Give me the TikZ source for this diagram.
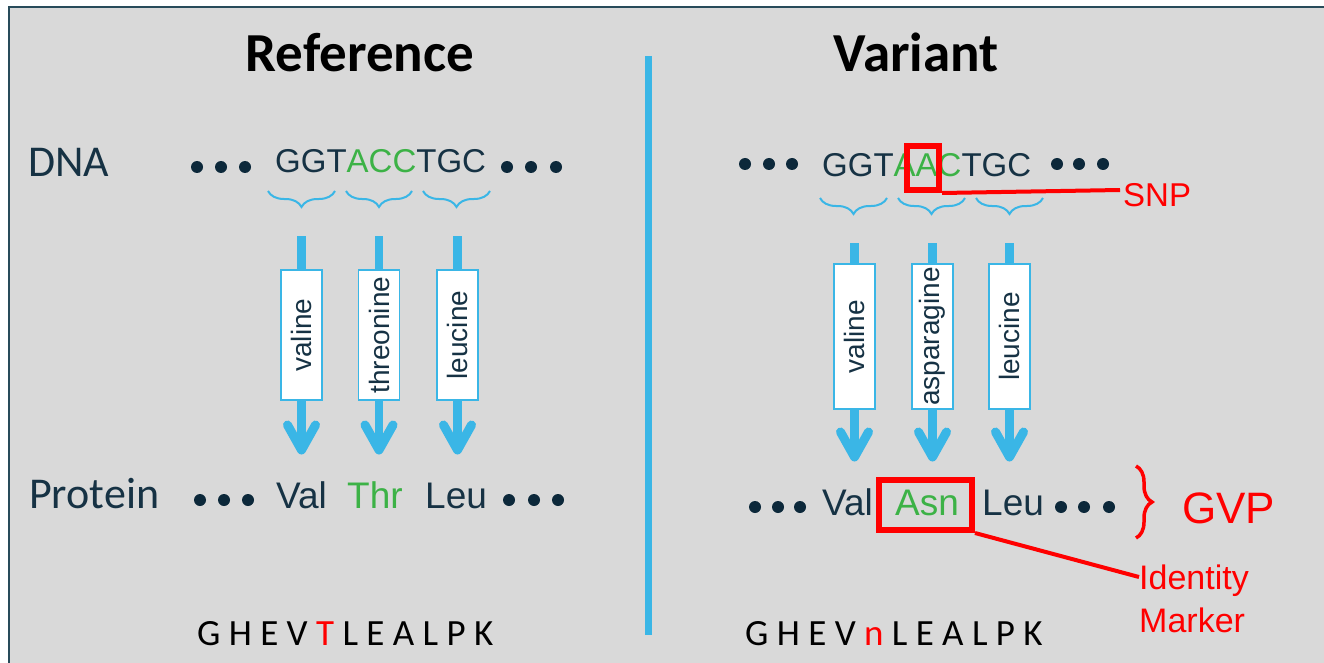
\documentclass[tikz,border=0pt]{standalone}
\usepackage{fontspec}
\setmainfont{Carlito}
\newfontfamily\arialf{Liberation Sans}
\usetikzlibrary{decorations.pathreplacing,calc}
\definecolor{bg}{RGB}{217,217,217}
\definecolor{framec}{RGB}{40,75,90}
\definecolor{navy}{RGB}{22,50,68}
\definecolor{dotc}{RGB}{12,40,58}
\definecolor{grn}{RGB}{60,178,70}
\definecolor{blu}{RGB}{58,182,230}
\definecolor{rd}{RGB}{255,0,0}
\begin{document}
\begin{tikzpicture}[x=1pt,y=-1pt,
  title/.style={font=\fontsize{55}{60}\selectfont\bfseries, text=black, anchor=base, inner sep=0},
  lbl/.style={font=\fontsize{44}{50}\selectfont, text=navy, anchor=base west, inner sep=0},
  seq/.style={font=\arialf\fontsize{33}{38}\selectfont, text=navy, anchor=base west, inner sep=0},
  aa/.style={font=\arialf\fontsize{37}{42}\selectfont, text=navy, anchor=base west, inner sep=0},
  pep/.style={font=\fontsize{37}{42}\selectfont, text=black, anchor=base west, inner sep=0},
  codonbox/.style={draw=blu, line width=1.5pt, fill=white, minimum height=41pt, inner sep=0, rotate=90, font=\arialf\fontsize{28}{32}\selectfont, text=navy},
  shaft/.style={draw=blu, line width=8.5pt},
  headv/.style={draw=blu, line width=9pt, line cap=round, line join=round},
  brc/.style={draw=blu, line width=2pt, decorate, decoration={brace, amplitude=16pt, mirror}},
  redbox/.style={draw=rd, line width=6pt, inner sep=0},
  redline/.style={draw=rd, line width=4pt},
  redtxt/.style={font=\arialf\fontsize{33}{38}\selectfont, text=rd, anchor=base west, inner sep=0},
  dot/.style={fill=dotc}
]
\useasboundingbox (0,0) rectangle (1324,663);
% background and frame
\fill[bg] (9,7) rectangle (1324,663);
\draw[framec, line width=2.5pt] (9,663) -- (9,7) -- (1324,7);
% divider
\draw[blu, line width=7pt] (648,56) -- (648,635);

% titles
\node[title] (tref) at (360,72) {Reference};
\node[title] (tvar) at (916,72) {Variant};

% ===== Left (Reference) =====
\node[lbl] (dna) at (28,176) {DNA};
\node[lbl] (prot) at (29,508) {Protein};
\foreach \x in {197,221,245,507,531,556} \fill[dot] (\x,167) circle (6);
\node[seq] (seqL) at (275,173) {GGT\textcolor{grn}{ACC}TGC};
\draw[brc] (268,191) -- (335,191);
\draw[brc] (346,191) -- (412,191);
\draw[brc] (423,191) -- (490,191);

\foreach \i/\cx/\name in {1/301.5/valine,2/379/threonine,3/457.5/leucine}{
  \coordinate (sL\i) at (\cx,236);
  \coordinate (tL\i) at (\cx,450);
  \node[codonbox, minimum width=130pt] (bL\i) at (\cx,335) {\name};
  \draw[shaft] (sL\i) -- (bL\i.east);
  \draw[shaft] (bL\i.west) -- (tL\i);
  \draw[headv] ($(tL\i)+(-14,-25)$) -- (tL\i) -- ($(tL\i)+(14,-25)$);
}

\foreach \x in {200,224,248,509,534,558} \fill[dot] (\x,500) circle (6);
\node[aa] (valL) at (276,508) {Val};
\node[aa, text=grn] (thrL) at (347,508) {Thr};
\node[aa] (leuL) at (425,508) {Leu};
\node[pep] (pepL) at (197,645) {G H E V \textcolor{rd}{T} L E A L P K};

% ===== Right (Variant) =====
\foreach \x in {745,769,792,1057,1079,1103} \fill[dot] (\x,164) circle (6);
\node[seq] (seqR) at (822,177) {GGT\textcolor{grn}{AAC}TGC};
\node[redbox, minimum width=32pt, minimum height=44pt] (snpbox) at (923,168) {};
\node[redtxt] (snp) at (1123,207) {SNP};
\coordinate (snpend) at (1120,190);
\draw[redline] (snpbox.south east) -- (snpend);

\draw[brc] (820,198) -- (887,198);
\draw[brc] (898,198) -- (965,198);
\draw[brc] (976,198) -- (1043,198);

\foreach \i/\cx/\name in {1/854.5/valine,2/932.5/asparagine,3/1009.5/leucine}{
  \coordinate (sR\i) at (\cx,243);
  \coordinate (tR\i) at (\cx,457);
  \node[codonbox, minimum width=145pt] (bR\i) at (\cx,336.5) {\name};
  \draw[shaft] (sR\i) -- (bR\i.east);
  \draw[shaft] (bR\i.west) -- (tR\i);
  \draw[headv] ($(tR\i)+(-14,-25)$) -- (tR\i) -- ($(tR\i)+(14,-25)$);
}

\foreach \x in {755,778,800,1061,1084,1109} \fill[dot] (\x,507) circle (6);
\node[aa] (valR) at (822,515) {Val};
\node[aa, text=grn] (asnR) at (895,515) {Asn};
\node[aa] (leuR) at (982,515) {Leu};
\node[redbox, minimum width=93pt, minimum height=50pt] (asnbox) at (925.5,505) {};
\draw[rd, line width=3.5pt, decorate, decoration={brace, amplitude=16pt}] (1136,466) -- (1136,538);
\node[redtxt, font=\arialf\fontsize{44}{50}\selectfont] (gvp) at (1182,523) {GVP};
\node[redtxt, font=\arialf\fontsize{34}{43}\selectfont, align=left, anchor=north west] (idm) at (1139,565) {Identity\\Marker};
\coordinate (idmend) at (1139,577);
\draw[redline] (asnbox.south east) -- (idmend);
\node[pep] (pepR) at (745,645) {G H E V \textcolor{rd}{n} L E A L P K};
\end{tikzpicture}
\end{document}
